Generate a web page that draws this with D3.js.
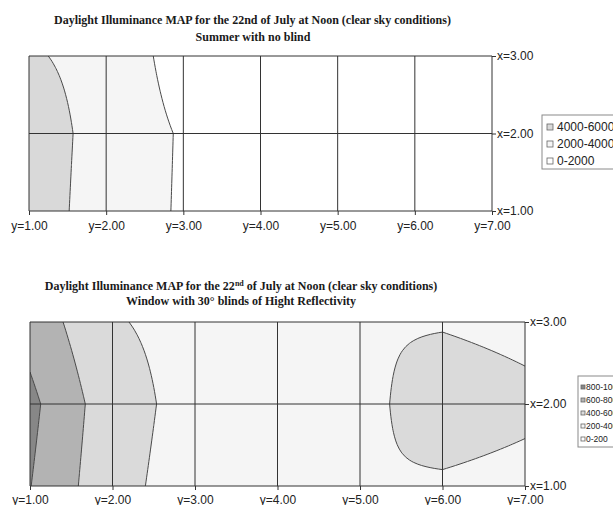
<!DOCTYPE html>
<html lang="en">
<head>
<meta charset="UTF-8">
<title>Daylight Illuminance MAP</title>
<script src="https://d3js.org/d3.v7.min.js"></script>
<style>
  body { margin: 0; background: #fff; }
  svg { display: block; }
  .lbl { font-family: "Liberation Sans", Arial, sans-serif; font-size: 12px; fill: #222; }
  .ttl { font-family: "Liberation Serif", "Times New Roman", serif; font-weight: bold; font-size: 12px; fill: #1a1a1a; }
</style>
</head>
<body>
<svg width="613" height="505"></svg>
<script>
// grid positions: y runs along the room (horizontal), x across it (vertical)
const yCats = [1, 2, 3, 4, 5, 6, 7];
const xRows = [1, 2, 3];

// summer, no blind (lux), one array per x row
const noBlindX1 = [4760, 3300, 1750, 1450, 1250, 1150, 1100];
const noBlindX2 = [4800, 3400, 1790, 1500, 1300, 1200, 1150];
const noBlindX3 = [4150, 3550, 1010, 900, 850, 820, 800];
const noBlindLevels = [0, 2000, 4000, 6000];
const noBlindLegend = ["4000-6000", "2000-4000", "0-2000"];

// window with 30deg blinds, high reflectivity
const blindX1 = [805, 455, 317, 320, 394, 375, 341];
const blindX2 = [848, 478, 332, 330, 344, 500, 443];
const blindX3 = [725, 413, 348, 340, 388, 386, 350];
const blindLevels = [0, 200, 400, 600, 800, 1000];
const blindLegend = ["800-1000", "600-800", "400-600", "200-400", "0-200"];

const svg = d3.select("svg");
const defs = svg.append("defs");
const lineCol = "#333";
const SUB = 20; // render steps per grid cell (surface is bilinear between measured points)

function surface(rows) {
  const nx = (yCats.length - 1) * SUB + 1, ny = (xRows.length - 1) * SUB + 1;
  const vals = new Array(nx * ny);
  for (let r = 0; r < ny; r++) {
    const i = Math.min(Math.floor(r / SUB), xRows.length - 2), t = r / SUB - i;
    for (let c = 0; c < nx; c++) {
      const j = Math.min(Math.floor(c / SUB), yCats.length - 2), s = c / SUB - j;
      vals[r * nx + c] = (1 - s) * (1 - t) * rows[i][j] + s * (1 - t) * rows[i][j + 1]
        + (1 - s) * t * rows[i + 1][j] + s * t * rows[i + 1][j + 1];
    }
  }
  return { nx, ny, vals };
}

function drawMap(cfg) {
  const g = svg.append("g");
  const sx = d3.scaleLinear().domain(d3.extent(yCats)).range([cfg.left, cfg.right]);
  const sy = d3.scaleLinear().domain(d3.extent(xRows)).range([cfg.bottom, cfg.top]);

  defs.append("clipPath").attr("id", cfg.id).append("rect")
    .attr("x", cfg.left).attr("y", cfg.top)
    .attr("width", cfg.right - cfg.left).attr("height", cfg.bottom - cfg.top);

  const srf = surface(cfg.rows);
  const contours = d3.contours().size([srf.nx, srf.ny])
    .thresholds(cfg.levels.slice(0, -1))(srf.vals);

  const proj = d3.geoTransform({
    point(px, py) {
      this.stream.point(sx(yCats[0] + (px - 0.5) / SUB), sy(xRows[0] + (py - 0.5) / SUB));
    }
  });
  const path = d3.geoPath(proj);

  g.append("g").attr("clip-path", `url(#${cfg.id})`)
    .selectAll("path").data(contours).join("path")
    .attr("d", path)
    .attr("fill", (d, i) => cfg.colors[i])
    .attr("stroke", (d, i) => i > 0 ? "#4a4a4a" : "none")
    .attr("stroke-width", 1);

  // grid
  g.append("g").selectAll("line").data(yCats).join("line")
    .attr("x1", d => sx(d)).attr("x2", d => sx(d))
    .attr("y1", cfg.top).attr("y2", cfg.bottom)
    .attr("stroke", lineCol).attr("stroke-width", 1);
  g.append("g").selectAll("line").data(xRows).join("line")
    .attr("y1", d => sy(d)).attr("y2", d => sy(d))
    .attr("x1", cfg.left).attr("x2", cfg.right)
    .attr("stroke", lineCol).attr("stroke-width", 1);

  // axes
  const ax = g.append("g").attr("transform", `translate(0,${cfg.bottom})`)
    .call(d3.axisBottom(sx).tickValues(yCats).tickFormat(d => "y=" + d.toFixed(2)).tickSize(4).tickPadding(cfg.pad));
  const ay = g.append("g").attr("transform", `translate(${cfg.right},0)`)
    .call(d3.axisRight(sy).tickValues(xRows).tickFormat(d => "x=" + d.toFixed(2)).tickSize(4).tickPadding(1));
  [ax, ay].forEach(a => {
    a.attr("font-size", null).attr("font-family", null);
    a.select(".domain").remove();
    a.selectAll("line").attr("stroke", lineCol);
    a.selectAll("text").attr("class", "lbl").attr("fill", null);
  });

  // legend
  const lg = g.append("g");
  const L = cfg.legend;
  lg.append("rect")
    .attr("x", L.x).attr("y", L.y).attr("width", 120).attr("height", L.h)
    .attr("fill", "#fff").attr("stroke", "#8a8a8a").attr("stroke-width", 1);
  const colsHiLo = cfg.colors.slice().reverse();
  cfg.labels.forEach((lab, i) => {
    const cy = L.y + L.first + i * L.step;
    lg.append("rect")
      .attr("x", L.x + L.sw0).attr("y", cy - L.sw / 2)
      .attr("width", L.sw).attr("height", L.sw)
      .attr("fill", colsHiLo[i]).attr("stroke", "#666").attr("stroke-width", 0.8);
    lg.append("text")
      .attr("x", L.x + L.tx).attr("y", cy).attr("dy", "0.35em")
      .attr("font-family", "Liberation Sans, Arial, sans-serif")
      .attr("font-size", L.fs).attr("fill", "#222")
      .text(lab);
  });
}

drawMap({
  id: "clipTop",
  left: 29, right: 492, top: 56, bottom: 211, pad: 6,
  rows: [noBlindX1, noBlindX2, noBlindX3],
  levels: noBlindLevels,
  colors: ["#ffffff", "#f5f5f5", "#d9d9d9"],
  labels: noBlindLegend,
  legend: { x: 542, y: 115, h: 54, first: 12, step: 17, sw: 6, sw0: 5, tx: 15, fs: 12 }
});

drawMap({
  id: "clipBottom",
  left: 30, right: 525, top: 322, bottom: 486, pad: 5,
  rows: [blindX1, blindX2, blindX3],
  levels: blindLevels,
  colors: ["#ffffff", "#f5f5f5", "#dadada", "#b3b3b3", "#878787"],
  labels: blindLegend,
  legend: { x: 578, y: 376, h: 71, first: 11, step: 13, sw: 4, sw0: 3, tx: 8, fs: 8.5 }
});

// titles
const t1 = svg.append("text").attr("class", "ttl").attr("text-anchor", "middle");
t1.append("tspan").attr("x", 252.5).attr("y", 23.5)
  .text("Daylight Illuminance MAP for the 22nd of July at Noon (clear sky conditions)");
t1.append("tspan").attr("x", 253).attr("y", 41).text("Summer with no blind");

const t2 = svg.append("text").attr("class", "ttl").attr("text-anchor", "middle").attr("x", 241).attr("y", 289.5);
t2.append("tspan").text("Daylight Illuminance MAP for the 22");
t2.append("tspan").attr("dy", -4).attr("font-size", "8px").text("nd");
t2.append("tspan").attr("dy", 4).text(" of July at Noon (clear sky conditions)");
svg.append("text").attr("class", "ttl").attr("text-anchor", "middle")
  .attr("x", 241).attr("y", 305)
  .text("Window with 30° blinds of Hight Reflectivity");
</script>
</body>
</html>
